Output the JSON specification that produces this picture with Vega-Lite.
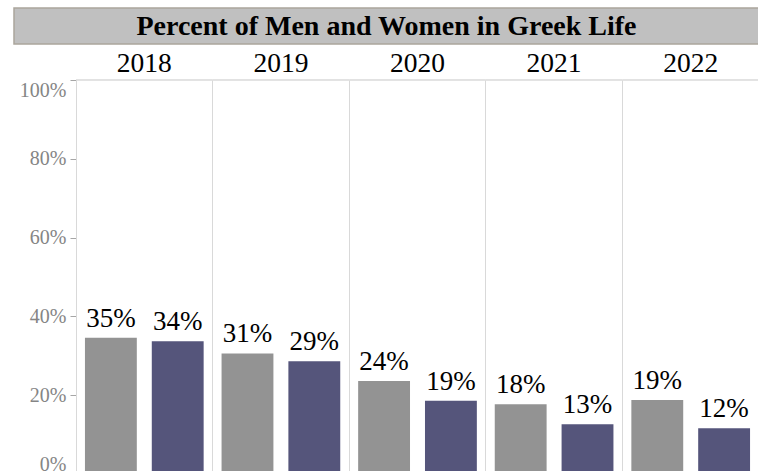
{
  "$schema": "https://vega.github.io/schema/vega-lite/v6.json",
  "padding": {"left": 13, "top": 7, "right": 0, "bottom": 0},
  "background": "white",
  "spacing": 0,
  "config": {
    "font": "Liberation Serif, Times New Roman, serif",
    "view": {"stroke": null},
    "concat": {"spacing": 0}
  },
  "datasets": {
    "greek": [
      {"year": "2018", "gender": "Men", "pct": 0.346},
      {"year": "2018", "gender": "Women", "pct": 0.337},
      {"year": "2019", "gender": "Men", "pct": 0.306},
      {"year": "2019", "gender": "Women", "pct": 0.286},
      {"year": "2020", "gender": "Men", "pct": 0.236},
      {"year": "2020", "gender": "Women", "pct": 0.186},
      {"year": "2021", "gender": "Men", "pct": 0.177},
      {"year": "2021", "gender": "Women", "pct": 0.126},
      {"year": "2022", "gender": "Men", "pct": 0.188},
      {"year": "2022", "gender": "Women", "pct": 0.116}
    ]
  },
  "vconcat": [
    {
      "width": 745,
      "height": 36,
      "data": {"values": [{"t": "Percent of Men and Women in Greek Life"}]},
      "view": {"fill": "#c0c0c0", "stroke": "#aaa59c", "strokeWidth": 1.5},
      "mark": {"type": "text", "font": "Liberation Serif, Times New Roman, serif", "fontWeight": "bold", "fontSize": 28, "baseline": "middle", "dy": 1, "color": "black"},
      "encoding": {"text": {"field": "t", "type": "nominal"}}
    },
    {
      "width": 745,
      "height": 428,
      "data": {"name": "greek"},
      "encoding": {
        "x": {
          "field": "year",
          "type": "ordinal",
          "scale": {"paddingInner": 0, "paddingOuter": 0, "range": [62, 745]},
          "axis": {"orient": "top", "title": null, "labels": false, "ticks": false, "domain": false, "grid": true, "gridColor": "#d9d9d9", "bandPosition": 0}
        },
        "y": {
          "field": "pct",
          "type": "quantitative",
          "scale": {"domain": [0, 1], "range": [428, 34]},
          "axis": {
            "title": null,
            "offset": -62,
            "format": ".0%",
            "values": [0, 0.2, 0.4, 0.6, 0.8, 1],
            "grid": false,
            "domain": false,
            "tickColor": "#a6a6a6",
            "tickSize": 6,
            "labelPadding": 4,
            "labelFlush": true,
            "labelFont": "Liberation Serif, Times New Roman, serif",
            "labelFontSize": 20,
            "labelColor": "#858585"
          }
        }
      },
      "layer": [
        {
          "transform": [{"filter": {"field": "gender", "equal": "Men"}}],
          "mark": {"type": "rect", "fill": null, "stroke": "#d9d9d9", "strokeWidth": 1},
          "encoding": {"y": {"datum": 1, "type": "quantitative"}, "y2": {"datum": 1}}
        },
        {
          "mark": {"type": "rule", "color": "#d9d9d9"},
          "encoding": {"x": {"datum": "2022", "bandPosition": 1, "type": "ordinal"}, "y": null}
        },
        {
          "mark": {"type": "bar"},
          "encoding": {
            "xOffset": {"field": "gender", "type": "nominal", "scale": {"paddingInner": 0.224, "paddingOuter": 0.134}},
            "color": {"field": "gender", "type": "nominal", "legend": null, "scale": {"domain": ["Men", "Women"], "range": ["#939393", "#55557b"]}}
          }
        },
        {
          "mark": {"type": "text", "baseline": "alphabetic", "dy": -11, "fontSize": 27, "font": "Liberation Serif, Times New Roman, serif", "color": "black"},
          "encoding": {
            "xOffset": {"field": "gender", "type": "nominal", "scale": {"paddingInner": 0.224, "paddingOuter": 0.134}},
            "text": {"field": "pct", "type": "quantitative", "format": ".0%"}
          }
        },
        {
          "transform": [{"filter": {"field": "gender", "equal": "Men"}}],
          "mark": {"type": "text", "baseline": "alphabetic", "dy": -8, "fontSize": 27.5, "font": "Liberation Serif, Times New Roman, serif", "color": "black"},
          "encoding": {
            "y": {"datum": 1, "type": "quantitative"},
            "text": {"field": "year", "type": "nominal"}
          }
        }
      ]
    }
  ]
}
